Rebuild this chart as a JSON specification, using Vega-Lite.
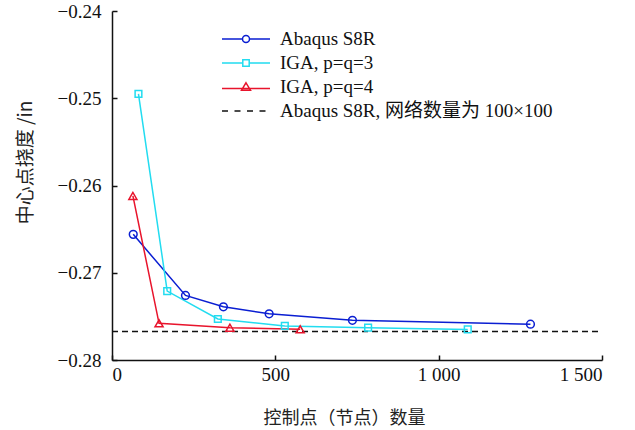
{
  "$schema": "https://vega.github.io/schema/vega-lite/v6.json",
  "width": 490,
  "height": 349,
  "autosize": "none",
  "padding": {"left": 112, "top": 11, "right": 33, "bottom": 70},
  "background": "white",
  "config": {
    "view": {"stroke": null},
    "axis": {
      "domainColor": "#111",
      "domainWidth": 1.5,
      "tickColor": "#111",
      "tickWidth": 1.5,
      "tickSize": -5,
      "grid": false,
      "labelFont": "Liberation Serif",
      "labelFontSize": 19,
      "labelColor": "#111",
      "titleFont": "Noto Sans CJK SC",
      "titleFontSize": 18,
      "titleFontWeight": "normal",
      "titleColor": "#222"
    }
  },
  "datasets": {
    "pts": [
      {"series": "Abaqus S8R", "n": 65, "w": -0.2656},
      {"series": "Abaqus S8R", "n": 225, "w": -0.2726},
      {"series": "Abaqus S8R", "n": 341, "w": -0.2739},
      {"series": "Abaqus S8R", "n": 481, "w": -0.2747},
      {"series": "Abaqus S8R", "n": 736, "w": -0.27545},
      {"series": "Abaqus S8R", "n": 1281, "w": -0.2759},
      {"series": "IGA, p=q=3", "n": 81, "w": -0.2495},
      {"series": "IGA, p=q=3", "n": 169, "w": -0.2721},
      {"series": "IGA, p=q=3", "n": 324, "w": -0.2753},
      {"series": "IGA, p=q=3", "n": 529, "w": -0.2761},
      {"series": "IGA, p=q=3", "n": 784, "w": -0.2763},
      {"series": "IGA, p=q=3", "n": 1089, "w": -0.2765},
      {"series": "IGA, p=q=4", "n": 64, "w": -0.2612},
      {"series": "IGA, p=q=4", "n": 144, "w": -0.2758},
      {"series": "IGA, p=q=4", "n": 361, "w": -0.2763},
      {"series": "IGA, p=q=4", "n": 576, "w": -0.27648}
    ],
    "ref": [
      {"series": "Abaqus S8R, 网络数量为 100×100", "n": 0, "n2": 1500, "w": -0.27673}
    ]
  },
  "layer": [
    {
      "data": {"name": "ref"},
      "mark": {"type": "rule", "strokeWidth": 1.5, "strokeDash": [6, 4]},
      "encoding": {
        "x": {"field": "n", "type": "quantitative"},
        "x2": {"field": "n2"},
        "y": {"field": "w", "type": "quantitative"},
        "color": {"field": "series", "type": "nominal"}
      }
    },
    {
      "data": {"name": "pts"},
      "mark": {"type": "line", "strokeWidth": 1.5},
      "encoding": {
        "x": {
          "field": "n", "type": "quantitative",
          "scale": {"domain": [0, 1500], "nice": false, "zero": false},
          "axis": {
            "values": [0, 500, 1000, 1500],
            "labelExpr": "replace(format(datum.value, ','), ',', ' ')",
            "labelPadding": 10,
            "title": "控制点（节点）数量",
            "titleX": 232,
            "titleY": 58,
            "titleAlign": "center",
            "titleBaseline": "middle"
          }
        },
        "y": {
          "field": "w", "type": "quantitative",
          "scale": {"domain": [-0.28, -0.24], "nice": false, "zero": false},
          "axis": {
            "values": [-0.28, -0.27, -0.26, -0.25, -0.24],
            "format": ".2f",
            "labelPadding": 16,
            "title": "中心点挠度 /in",
            "titleAngle": 270,
            "titleAlign": "center",
            "titleBaseline": "middle",
            "titleX": -87,
            "titleY": 151,
            "titleFontSize": 19
          }
        },
        "color": {
          "field": "series", "type": "nominal",
          "scale": {
            "domain": ["Abaqus S8R", "IGA, p=q=3", "IGA, p=q=4", "Abaqus S8R, 网络数量为 100×100"],
            "range": ["#0a1ed2", "#22dcf0", "#e8142c", "#111111"]
          }
        }
      }
    },
    {
      "data": {"name": "pts"},
      "transform": [{"filter": "datum.series == 'Abaqus S8R'"}],
      "mark": {"type": "point", "shape": "circle", "filled": false, "size": 60, "strokeWidth": 1.5, "opacity": 1},
      "encoding": {
        "x": {"field": "n", "type": "quantitative"},
        "y": {"field": "w", "type": "quantitative"},
        "color": {"field": "series", "type": "nominal"}
      }
    },
    {
      "data": {"name": "pts"},
      "transform": [{"filter": "datum.series == 'IGA, p=q=3'"}],
      "mark": {"type": "point", "shape": "square", "filled": false, "size": 45, "strokeWidth": 1.5, "opacity": 1},
      "encoding": {
        "x": {"field": "n", "type": "quantitative"},
        "y": {"field": "w", "type": "quantitative"},
        "color": {"field": "series", "type": "nominal"}
      }
    },
    {
      "data": {"name": "pts"},
      "transform": [{"filter": "datum.series == 'IGA, p=q=4'"}],
      "mark": {"type": "point", "shape": "triangle-up", "filled": false, "size": 65, "strokeWidth": 1.5, "opacity": 1},
      "encoding": {
        "x": {"field": "n", "type": "quantitative"},
        "y": {"field": "w", "type": "quantitative"},
        "color": {"field": "series", "type": "nominal"}
      }
    },
    {
      "data": {"name": "pts"},
      "transform": [{"filter": "false"}],
      "mark": {"type": "point", "filled": false, "size": 400, "strokeWidth": 1.5, "opacity": 1},
      "encoding": {
        "x": {"field": "n", "type": "quantitative"},
        "y": {"field": "w", "type": "quantitative"},
        "color": {
          "field": "series", "type": "nominal",
          "legend": {
            "orient": "none",
            "legendX": 123,
            "legendY": 17,
            "title": null,
            "padding": 0,
            "rowPadding": 3,
            "labelFont": "Liberation Serif, Noto Sans CJK SC",
            "labelFontSize": 19,
            "labelColor": "#111",
            "labelOffset": 23,
            "labelLimit": 400,
            "symbolSize": 400,
            "symbolStrokeWidth": 1.5,
            "symbolOpacity": 1,
            "symbolFillColor": "transparent"
          }
        },
        "shape": {
          "field": "series", "type": "nominal",
          "scale": {
            "domain": ["Abaqus S8R", "IGA, p=q=3", "IGA, p=q=4", "Abaqus S8R, 网络数量为 100×100"],
            "range": [
              "M-2.4,0H-0.35M0.35,0H2.4M0.35,0A0.35,0.35 0 1,1 -0.35,0A0.35,0.35 0 1,1 0.35,0",
              "M-2.4,0H-0.32M0.32,0H2.4M-0.32,-0.32H0.32V0.32H-0.32Z",
              "M-2.4,0.15H2.4M0,-0.42L0.45,0.32H-0.45Z",
              "M-2.4,0H-1.8M-1.15,0H-0.55M0.1,0H0.7M1.35,0H1.95"
            ]
          }
        }
      }
    }
  ]
}
